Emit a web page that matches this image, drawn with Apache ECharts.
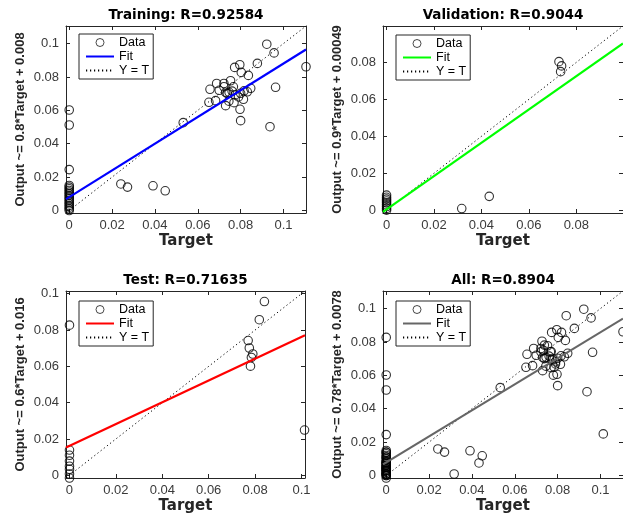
<!DOCTYPE html>
<html>
<head>
<meta charset="utf-8">
<script src="https://cdn.jsdelivr.net/npm/echarts@6/dist/echarts.min.js"></script>
<style>html,body{margin:0;padding:0;background:#fff;}#c{width:623px;height:513px;}</style>
</head>
<body>
<div id="c"></div>
<script>
// ---------- data ----------
const trainTarget = [0,0,0,0,0,0,0,0,0,0,0,0,0,0,0,0,0,0,0,
  0.0241,0.0272,0.0391,0.0448,0.0532,
  0.0922,0.0956,0.1105,0.0796,0.0772,0.0878,0.0803,0.0836,0.0688,0.0722,
  0.0753,0.0657,0.0722,0.0766,0.0730,0.0746,0.0816,0.0831,0.0847,0.0774,
  0.0800,0.0813,0.0652,0.0683,0.0730,0.0769,0.0797,0.0800,0.0937,0.0963,
  0.0738,0.0760,0.0790,0.0745,0.0700];
const trainOutput = [0,0.001,0.002,0.003,0.004,0.005,0.006,0.007,0.008,0.009,0.010,0.011,0.012,0.013,0.014,0.015,0.0245,0.0512,0.0602,
  0.0159,0.0140,0.0148,0.0118,0.0526,
  0.0996,0.0944,0.0861,0.0873,0.0857,0.0881,0.0827,0.0809,0.0761,0.0761,
  0.0777,0.0726,0.0741,0.0741,0.0708,0.0708,0.0717,0.0711,0.0732,0.0692,
  0.0702,0.0666,0.0648,0.0658,0.0628,0.0646,0.0606,0.0538,0.0502,0.0738,
  0.0700,0.0715,0.0680,0.0655,0.0720];

const valTarget = [0,0,0,0,0,0,0,0,0, 0.0727,0.0738,0.0734,0.0317,0.0433];
const valOutput = [0,0.001,0.002,0.003,0.004,0.005,0.006,0.007,0.0082, 0.0804,0.0781,0.0750,0.0009,0.0075];

const testTarget = [0,0,0,0,0,0,0,0, 0.0840,0.0818,0.0770,0.0775,0.0790,0.0784,0.0780,0.1013];
const testOutput = [0.0827,0.0139,0.0110,0.0078,0.0050,0.0033,0.0007,-0.0015, 0.0957,0.0857,0.0742,0.0701,0.0668,0.0649,0.0601,0.0249];

const allTarget = trainTarget.concat(valTarget, testTarget);
const allOutput = trainOutput.concat(valOutput, testOutput);

const panelTitles = ['Training: R=0.92584', 'Validation: R=0.9044', 'Test: R=0.71635', 'All: R=0.8904'];
const yNames = ['Output ~= 0.8*Target + 0.008', 'Output ~= 0.9*Target + 0.00049', 'Output ~= 0.6*Target + 0.016', 'Output ~= 0.78*Target + 0.0078'];
const fitSlope = [0.8, 0.9, 0.6, 0.78];
const fitIntercept = [0.008, 0.00049, 0.0162, 0.0078];
const axisMin = [-0.0015, -0.0015, -0.0015, -0.0015];
const axisMax = [0.1105, 0.0997, 0.1015, 0.1105];
const tickTrain = [0, 0.02, 0.04, 0.06, 0.08, 0.1];
const tickVal = [0, 0.02, 0.04, 0.06, 0.08];
const tickTest = [0, 0.02, 0.04, 0.06, 0.08, 0.1];
const tickAll = [0, 0.02, 0.04, 0.06, 0.08, 0.1];
const legendNames = ['Data', 'Fit', 'Y = T'];

// ---------- layout / style ----------
const fitColors = ['#0000ff', '#00ff00', '#ff0000', '#666666'];
const grids = [
  {left: 66, top: 26, width: 240, height: 187},
  {left: 383, top: 26, width: 240, height: 187},
  {left: 66, top: 291, width: 239, height: 187},
  {left: 383, top: 291, width: 240, height: 187}
];
const legendPos = [[79, 34], [396, 35], [79, 301], [396, 301]];
const ticksets = [tickTrain, tickVal, tickTest, tickAll];
const targets = [trainTarget, valTarget, testTarget, allTarget];
const outputs = [trainOutput, valOutput, testOutput, allOutput];

const axisColor = '#262626';
const fmt = v => String(+(+v).toFixed(5));

const xAxes = [], yAxes = [], series = [], legends = [], graphics = [];
for (let i = 0; i < 4; i++) {
  const ticks = ticksets[i];
  const common = {
    type: 'value', gridIndex: i, min: axisMin[i], max: axisMax[i],
    splitLine: {show: false},
    axisLine: {show: true, onZero: false, lineStyle: {color: axisColor, width: 1}},
    axisTick: {show: true, inside: true, length: 4, customValues: ticks, lineStyle: {color: axisColor}}
  };
  xAxes.push(Object.assign({}, common, {
    position: 'bottom',
    name: 'Target', nameLocation: 'middle', nameGap: 21,
    nameTextStyle: {fontFamily: 'DejaVu Sans', fontWeight: 'bold', fontSize: 15, color: '#262626'},
    axisLabel: {customValues: ticks, formatter: fmt, margin: 6, fontFamily: 'Liberation Sans', fontSize: 13, color: '#3a3a3a'}
  }));
  xAxes.push(Object.assign({}, common, {position: 'top', axisLabel: {show: false}}));
  yAxes.push(Object.assign({}, common, {
    position: 'left',
    name: yNames[i], nameLocation: 'middle', nameGap: 39,
    nameTextStyle: {fontFamily: 'Liberation Sans', fontWeight: 'bold', fontSize: 13, color: '#262626'},
    axisLabel: {customValues: ticks, formatter: fmt, margin: 7, fontFamily: 'Liberation Sans', fontSize: 13, color: '#3a3a3a'}
  }));
  yAxes.push(Object.assign({}, common, {position: 'right', axisLabel: {show: false}}));

  const pts = targets[i].map((t, k) => [t, outputs[i][k]]);
  series.push({
    name: 'Data#' + i, type: 'scatter', xAxisIndex: 2 * i, yAxisIndex: 2 * i,
    data: pts, symbol: 'circle', symbolSize: 8.5, z: 2,
    itemStyle: {color: 'rgba(255,255,255,0)', borderColor: '#000', borderWidth: 1.1}
  });
  const lo = axisMin[i], hi = axisMax[i];
  series.push({
    name: 'Fit#' + i, type: 'line', xAxisIndex: 2 * i, yAxisIndex: 2 * i,
    data: [[lo, fitSlope[i] * lo + fitIntercept[i]], [hi, fitSlope[i] * hi + fitIntercept[i]]],
    symbol: 'none', z: 4, lineStyle: {color: fitColors[i], width: 2.2},
    itemStyle: {color: 'rgba(0,0,0,0)', borderWidth: 0}
  });
  series.push({
    name: 'Y = T#' + i, type: 'line', xAxisIndex: 2 * i, yAxisIndex: 2 * i,
    data: [[lo, lo], [hi, hi]],
    symbol: 'none', z: 3, lineStyle: {color: '#000', width: 1, type: [1.2, 2.8]},
    itemStyle: {color: 'rgba(0,0,0,0)', borderWidth: 0}
  });
  legends.push({
    show: true, orient: 'vertical', left: legendPos[i][0], top: legendPos[i][1],
    data: [
      {name: 'Data#' + i, itemStyle: {borderWidth: 0.9}},
      {name: 'Fit#' + i},
      {name: 'Y = T#' + i}
    ],
    formatter: n => n.replace(/#.*$/, ''),
    selectedMode: false,
    backgroundColor: '#fff', borderColor: '#262626', borderWidth: 1,
    padding: [2, 4, 2, 6], itemGap: 1, itemWidth: 28, itemHeight: 8,
    textStyle: {fontFamily: 'Liberation Sans', fontSize: 12.5, color: '#000'}
  });
  const g = grids[i];
  graphics.push({
    type: 'text', x: g.left + g.width / 2, y: g.top - 11,
    style: {text: panelTitles[i], textAlign: 'center', textVerticalAlign: 'middle',
      font: 'bold 13.5px "DejaVu Sans"', fill: '#000'}
  });
}

const chart = echarts.init(document.getElementById('c'), null, {renderer: 'canvas'});
chart.setOption({
  backgroundColor: '#fff',
  animation: false,
  grid: grids.map(g => Object.assign({containLabel: false, outerBoundsMode: 'none'}, g)),
  xAxis: xAxes,
  yAxis: yAxes,
  legend: legends,
  series: series,
  graphic: graphics
});
</script>
</body>
</html>
